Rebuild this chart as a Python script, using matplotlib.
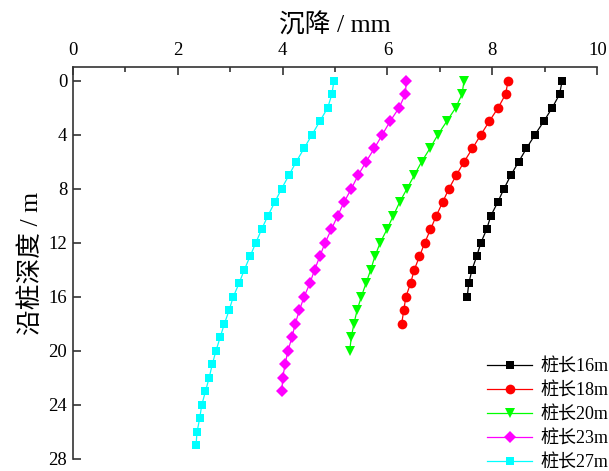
import numpy as np
import matplotlib
matplotlib.use("Agg")
import matplotlib.pyplot as plt
from matplotlib.ticker import MultipleLocator

plt.rcParams['font.family'] = ['Liberation Serif', 'Noto Sans CJK SC']
plt.rcParams['axes.unicode_minus'] = False

# settlement (mm) at each 1 m of depth along the pile
s16 = [9.33, 9.28, 9.14, 8.98, 8.81, 8.65, 8.50, 8.35, 8.22, 8.10, 7.97, 7.89,
       7.78, 7.70, 7.61, 7.55, 7.52]
s18 = [8.30, 8.25, 8.11, 7.94, 7.78, 7.62, 7.46, 7.31, 7.17, 7.05, 6.93, 6.82,
       6.71, 6.61, 6.51, 6.44, 6.35, 6.31, 6.27]
s20 = [7.46, 7.42, 7.30, 7.13, 6.96, 6.81, 6.65, 6.51, 6.37, 6.23, 6.11, 5.99,
       5.86, 5.76, 5.68, 5.59, 5.50, 5.42, 5.36, 5.31, 5.28]
s23 = [6.36, 6.34, 6.22, 6.05, 5.90, 5.75, 5.59, 5.44, 5.31, 5.17, 5.05, 4.93,
       4.81, 4.71, 4.61, 4.52, 4.41, 4.32, 4.24, 4.18, 4.10, 4.05, 4.00, 3.99]
s27 = [4.98, 4.94, 4.86, 4.71, 4.56, 4.41, 4.26, 4.12, 3.98, 3.85, 3.72, 3.60,
       3.49, 3.38, 3.27, 3.17, 3.06, 2.98, 2.89, 2.81, 2.73, 2.66, 2.60, 2.53,
       2.46, 2.42, 2.37, 2.35]

series = [s16, s18, s20, s23, s27]
labels = ['桩长16m', '桩长18m', '桩长20m', '桩长23m', '桩长27m']
colors = ['black', 'red', '#00ff00', '#ff00ff', '#00ffff']
markers = ['s', 'o', 'v', 'D', 's']
msizes = [6, 7, 7.5, 6, 6]

fig = plt.figure(figsize=(6.09, 4.71), dpi=100)
ax = fig.add_axes([0.1194, 0.0255, 0.8614, 0.8316])

for s, lab, col, mk, ms in zip(series, labels, colors, markers, msizes):
    depth = np.arange(len(s))
    ax.plot(s, depth, color=col, marker=mk, markersize=ms, linewidth=0.9,
            markeredgewidth=0, label=lab)

ax.set_xlim(0, 10)
ax.set_ylim(28, -1)
ax.xaxis.tick_top()
ax.xaxis.set_label_position('top')
ax.xaxis.set_major_locator(MultipleLocator(2))
ax.xaxis.set_minor_locator(MultipleLocator(1))
ax.set_yticks([0, 4, 8, 12, 16, 20, 24, 28])

ax.spines['right'].set_visible(False)
ax.spines['bottom'].set_visible(False)
for sp in ['top', 'left']:
    ax.spines[sp].set_linewidth(1.2)
    ax.spines[sp].set_color('#333333')

ax.tick_params(which='major', direction='in', length=6, width=1.2,
               labelsize=13.5, colors='#333333', labelcolor='black')
ax.tick_params(which='minor', direction='in', length=3.5, width=1.2,
               colors='#333333')
ax.tick_params(axis='x', which='both', top=True, bottom=False, pad=6)
ax.tick_params(axis='y', which='both', right=False, pad=4)

ax.set_xlabel('沉降 / mm', fontsize=18.5, labelpad=7)
ax.set_ylabel('沿桩深度 / m', fontsize=18.5, labelpad=4)

ax.legend(loc='lower left', bbox_to_anchor=(0.788, -0.017),
          bbox_transform=fig.transFigure, frameon=False,
          fontsize=13, handlelength=2.5, handletextpad=0.45, labelspacing=0.39,
          borderaxespad=0)

fig.savefig('out.png', dpi=100)
